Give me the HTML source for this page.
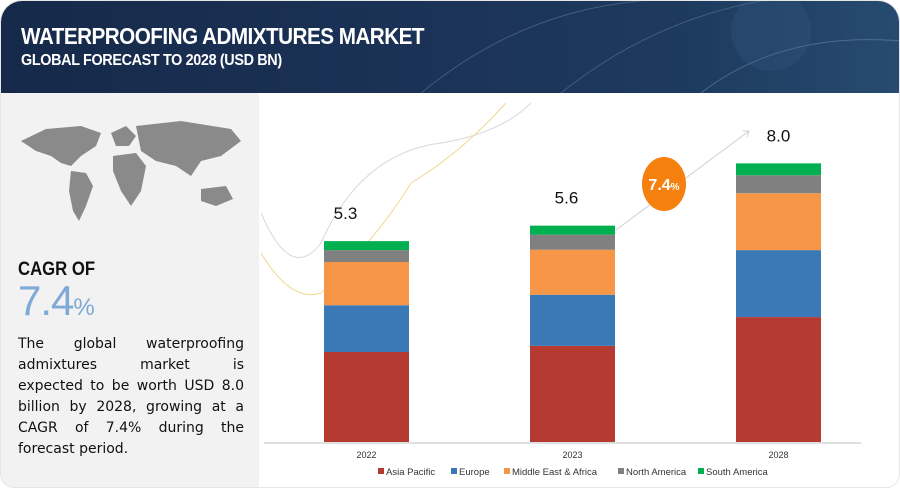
<!DOCTYPE html>
<html><head><meta charset="utf-8">
<style>
*{margin:0;padding:0;box-sizing:border-box}
body{width:900px;height:490px;background:#fff;font-family:"Liberation Sans",sans-serif;overflow:hidden;position:relative}
#card{position:absolute;left:0;top:0;width:900px;height:488px;border-radius:22px 22px 14px 14px;overflow:hidden;background:#fff;border:1px solid #e6e6e6}
#header{position:absolute;left:0;top:0;width:900px;height:92px;background:linear-gradient(90deg,#16294a 0%,#1b3256 45%,#1d3a5e 75%,#274b70 100%)}
#title{position:absolute;left:20px;top:22px;color:#fff;font-weight:bold;font-size:23px;letter-spacing:-0.6px;transform:scaleX(0.9);transform-origin:left}
#subtitle{position:absolute;left:20px;top:51px;color:#fff;font-weight:bold;font-size:16px;letter-spacing:-0.4px;transform:scaleX(0.9);transform-origin:left}
#left{position:absolute;left:0;top:92px;width:258px;height:396px;background:#f2f2f2}
#cagr-label{position:absolute;left:17px;top:258px;font-size:19px;font-weight:bold;color:#111;transform:scaleX(0.88);transform-origin:left}
#cagr-val{position:absolute;left:17px;top:276px;font-size:42px;color:#7fa9d6;letter-spacing:-1px}
#cagr-val span{font-size:24px}
#desc{position:absolute;left:17px;top:333px;width:226px;font-family:"DejaVu Sans",sans-serif;font-size:14px;line-height:21px;color:#111}
#desc div{text-align:justify;text-align-last:justify;white-space:nowrap}
#desc div.last{text-align-last:left}
</style></head><body>
<div id="card">
<div id="header">
<svg width="900" height="92" style="position:absolute;left:0;top:0">
<path d="M420 92 Q520 10 640 0" stroke="#5a7396" fill="none" stroke-width="1" opacity=".6"/>
<path d="M560 92 Q650 20 760 0" stroke="#5a7396" fill="none" stroke-width="1" opacity=".6"/>
<path d="M700 92 Q780 30 900 40" stroke="#6b86a8" fill="none" stroke-width="1" opacity=".6"/>
<circle cx="770" cy="30" r="40" fill="#3a5f88" opacity=".25"/>
</svg>
<div id="title">WATERPROOFING ADMIXTURES MARKET</div>
<div id="subtitle">GLOBAL FORECAST TO 2028 (USD BN)</div>
</div>
<div id="left"></div>
<svg width="260" height="130" style="position:absolute;left:0;top:110px">
<g fill="#8a8a8a">
<path d="M20 30 L45 18 L80 15 L100 22 L95 35 L80 45 L70 55 L60 52 L50 45 L35 40 Z"/>
<path d="M70 60 L85 62 L92 75 L85 95 L78 110 L72 100 L68 80 Z"/>
<path d="M110 22 L125 15 L135 25 L128 35 L115 35 Z"/>
<path d="M112 45 L135 42 L145 55 L140 80 L130 95 L120 80 L112 60 Z"/>
<path d="M135 15 L180 10 L230 18 L240 30 L220 45 L200 50 L190 65 L175 55 L155 50 L140 40 Z"/>
<path d="M200 78 L225 75 L232 88 L215 95 L200 90 Z"/>
</g>
</svg>
<div id="cagr-label">CAGR OF</div>
<div id="cagr-val">7.4<span>%</span></div>
<div id="desc">
<div>The global waterproofing</div>
<div>admixtures market is</div>
<div>expected to be worth USD 8.0</div>
<div>billion by 2028, growing at a</div>
<div>CAGR of 7.4% during the</div>
<div class="last">forecast period.</div>
</div>
<svg id="chart" width="640" height="396" style="position:absolute;left:260px;top:92px"></svg>
</div>
<script>
const years=["2022","2023","2028"];
const totals=["5.3","5.6","8.0"];
const asiaPacific=[2.5,2.67,3.47];
const europe=[1.3,1.42,1.86];
const mea=[1.2,1.25,1.58];
const northAmerica=[0.33,0.42,0.5];
const southAmerica=[0.25,0.25,0.33];
const seriesNames=["Asia Pacific","Europe","Middle East & Africa","North America","South America"];
const colors=["#b53a32","#3a78b6","#f79646","#808080","#00b050"];
const series=[asiaPacific,europe,mea,northAmerica,southAmerica];
const NS="http://www.w3.org/2000/svg";
const svg=document.getElementById('chart');
const base=349, pxPerUnit=36, barW=85;
const labelShift=[-21,-6,0];
function xPos(i){return 63+i*206;}
function yScale(v){return v*pxPerUnit;}
function mk(t,a){const e=document.createElementNS(NS,t);for(const k in a)e.setAttribute(k,a[k]);svg.appendChild(e);return e;}
let c=mk('path',{d:"M0 120 Q30 190 60 150 Q100 60 180 50 Q240 40 270 10",stroke:"#d8d8de",fill:"none","stroke-width":1});


c=mk('path',{d:"M0 160 Q30 210 60 200 Q120 140 150 90 Q200 60 245 10",stroke:"#f0d890",fill:"none","stroke-width":1});


c=mk('path',{d:"M355 137 L488 38",stroke:"#d0d0d0",fill:"none","stroke-width":1});


c=mk('path',{d:"M482 38 L488 38 L486 44",stroke:"#d0d0d0",fill:"none","stroke-width":1});


let ax=mk('line',{x1:3,x2:600,y1:base+1,y2:base+1,stroke:"#e0e0e0","stroke-width":2});


years.forEach((yr,i)=>{
  let y=base;
  series.forEach((s,k)=>{
    const h=yScale(s[i]);
    const r=mk('rect',{x:xPos(i),y:y-h,width:barW,height:h,fill:colors[k]});
    
    
    y-=h;
  });
  const t=mk('text',{x:xPos(i)+barW/2+labelShift[i],y:y-22,"font-size":"17","fill":"#111","text-anchor":"middle","font-family":"Liberation Sans"});
  t.textContent=totals[i];
  
  
  const l=mk('text',{x:xPos(i)+barW/2,y:base+16,"font-size":"9","fill":"#333","text-anchor":"middle","font-family":"Liberation Sans"});
  l.textContent=yr;
  
  
});
let b=mk('ellipse',{cx:403,cy:91,rx:22,ry:27,fill:"#f5800d"});


let bt=mk('text',{x:403,y:97,"font-size":"16","font-weight":"bold",fill:"#fff","text-anchor":"middle","font-family":"Liberation Sans"});
bt.innerHTML='7.4<tspan font-size="10">%</tspan>';


const legX=[117,190,243,357,437];
seriesNames.forEach((n,k)=>{
  const g=document.createElementNS(NS,'g');
  
  
  svg.appendChild(g);
  const r=document.createElementNS(NS,'rect');
  r.setAttribute('x',legX[k]);r.setAttribute('y',375);r.setAttribute('width',6);r.setAttribute('height',6);r.setAttribute('fill',colors[k]);
  
  
  g.appendChild(r);
  const t=document.createElementNS(NS,'text');
  t.setAttribute('x',legX[k]+8);t.setAttribute('y',382);t.setAttribute('font-size','9.5');t.setAttribute('fill','#333');t.setAttribute('font-family','Liberation Sans');
  t.textContent=n;
  
  
  g.appendChild(t);
});
</script>
</body></html>
